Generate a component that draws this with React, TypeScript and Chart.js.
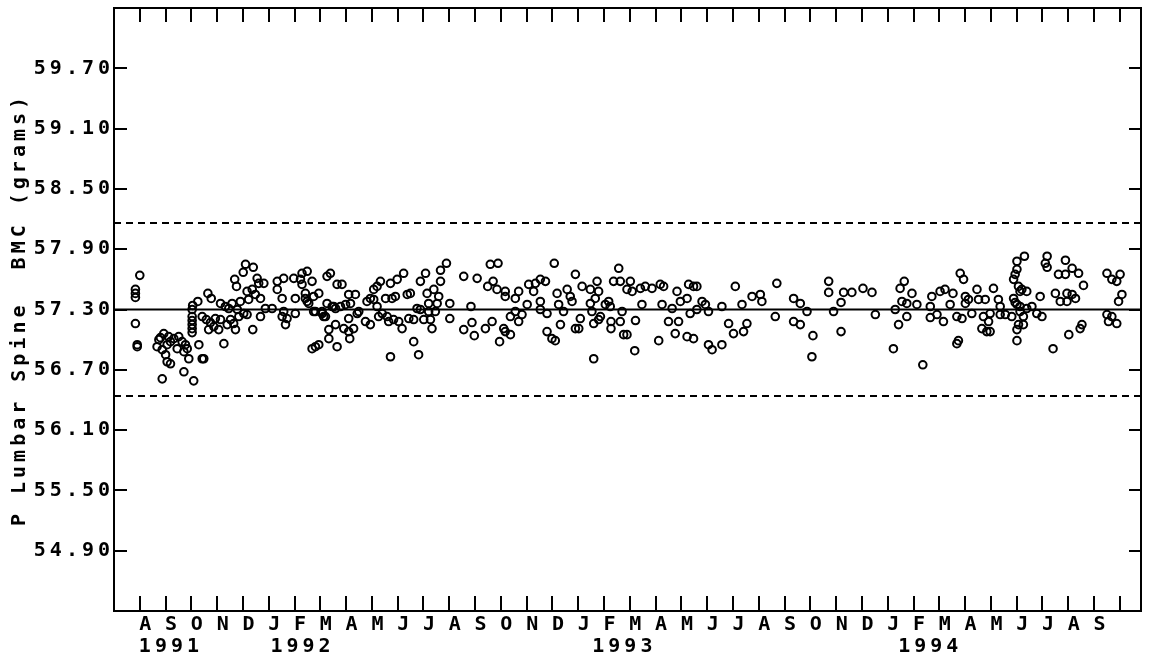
import { useEffect, useRef } from "react";
import { Chart, registerables } from "chart.js";

Chart.register(...registerables);

// ---- axis definitions ----
// x = months since 1 Aug 1991 (0 = Aug 1991, 38 = Oct 1994)
const xMin = -1;
const xMax = 38.82;
const monthTickValues = [
  0, 1, 2, 3, 4, 5, 6, 7, 8, 9, 10, 11, 12, 13, 14, 15, 16, 17, 18, 19,
  20, 21, 22, 23, 24, 25, 26, 27, 28, 29, 30, 31, 32, 33, 34, 35, 36, 37, 38,
];
const monthLetters = [
  "A", "S", "O", "N", "D",
  "J", "F", "M", "A", "M", "J", "J", "A", "S", "O", "N", "D",
  "J", "F", "M", "A", "M", "J", "J", "A", "S", "O", "N", "D",
  "J", "F", "M", "A", "M", "J", "J", "A", "S", "",
];
const yearLabels = ["1991", "1992", "1993", "1994"];
const yearLabelMonth = [1.13, 6.23, 18.71, 30.57];

const yMin = 54.3;
const yMax = 60.3;
const yTickValues = [54.9, 55.5, 56.1, 56.7, 57.3, 57.9, 58.5, 59.1, 59.7];
const yTitle = "P Lumbar Spine  BMC (grams)";

// reference lines
const meanBMC = 57.3;
const upperLimit = 58.16;
const lowerLimit = 56.44;

// ---- readings (month since Aug 1991, BMC grams) ----
const sampleMonth = [
  -0.17, -0.17, -0.17, 0.0, -0.17, -0.1, -0.1, 0.67, 0.74, 0.8,
  0.87, 0.87, 0.93, 1.0, 1.06, 1.06, 1.12, 1.19, 1.19, 1.32,
  1.45, 1.51, 1.64, 1.71, 1.71, 1.77, 1.84, 1.9, 2.03, 2.03,
  2.03, 2.03, 2.03, 2.03, 2.05, 2.09, 2.25, 2.29, 2.42, 2.42,
  2.48, 2.58, 2.64, 2.67, 2.74, 2.77, 2.87, 2.93, 3.06, 3.13,
  3.13, 3.26, 3.32, 3.39, 3.45, 3.52, 3.58, 3.64, 3.68, 3.71,
  3.75, 3.78, 3.84, 3.9, 4.01, 4.03, 4.1, 4.16, 4.16, 4.22,
  4.36, 4.38, 4.4, 4.48, 4.55, 4.61, 4.68, 4.68, 4.81, 4.87,
  5.13, 5.33, 5.33, 5.52, 5.52, 5.58, 5.58, 5.65, 5.71, 5.97,
  6.03, 6.03, 6.23, 6.29, 6.29, 6.42, 6.42, 6.49, 6.49, 6.55,
  6.68, 6.68, 6.74, 6.74, 6.81, 6.81, 6.94, 6.94, 7.07, 7.07,
  7.13, 7.2, 7.26, 7.26, 7.33, 7.33, 7.39, 7.46, 7.52, 7.59,
  7.59, 7.65, 7.65, 7.78, 7.84, 7.91, 7.98, 8.1, 8.1, 8.1,
  8.14, 8.17, 8.29, 8.36, 8.43, 8.49, 8.75, 8.81, 8.94, 8.94,
  9.07, 9.07, 9.2, 9.2, 9.26, 9.33, 9.4, 9.53, 9.59, 9.65,
  9.72, 9.72, 9.78, 9.84, 9.91, 9.98, 10.04, 10.17, 10.23, 10.37,
  10.43, 10.49, 10.62, 10.62, 10.75, 10.81, 10.88, 10.88, 11.01, 11.08,
  11.14, 11.2, 11.2, 11.27, 11.33, 11.4, 11.46, 11.53, 11.59, 11.66,
  11.66, 11.89, 12.02, 12.02, 12.56, 12.56, 12.84, 12.88, 12.97, 13.08,
  13.4, 13.49, 13.59, 13.66, 13.7, 13.85, 13.89, 13.95, 14.11, 14.17,
  14.17, 14.17, 14.37, 14.37, 14.56, 14.56, 14.69, 14.69, 14.82, 15.02,
  15.08, 15.27, 15.34, 15.53, 15.53, 15.53, 15.73, 15.79, 15.79, 15.98,
  16.07, 16.11, 16.18, 16.24, 16.31, 16.43, 16.57, 16.69, 16.76, 16.89,
  16.89, 17.02, 17.08, 17.15, 17.47, 17.47, 17.53, 17.6, 17.6, 17.66,
  17.73, 17.79, 17.79, 17.86, 18.05, 18.18, 18.24, 18.27, 18.27, 18.37,
  18.57, 18.63, 18.63, 18.7, 18.76, 18.89, 18.89, 19.02, 19.09, 19.19,
  19.22, 19.41, 19.47, 19.6, 19.86, 20.12, 20.18, 20.25, 20.31, 20.5,
  20.64, 20.76, 20.83, 20.89, 20.96, 21.22, 21.22, 21.28, 21.34, 21.47,
  21.47, 21.6, 21.6, 21.8, 21.93, 22.05, 22.05, 22.19, 22.57, 22.57,
  22.83, 23.02, 23.09, 23.35, 23.41, 23.54, 23.74, 24.06, 24.12, 24.64,
  24.7, 25.35, 25.35, 25.61, 25.61, 25.87, 26.1, 26.06, 26.71, 26.71,
  26.9, 27.19, 27.19, 27.29, 27.61, 28.04, 28.39, 28.52, 29.22, 29.29,
  29.42, 29.48, 29.55, 29.64, 29.74, 29.74, 29.94, 30.13, 30.36, 30.65,
  30.71, 30.65, 30.91, 31.03, 31.16, 31.22, 31.42, 31.53, 31.68, 31.74,
  31.68, 31.81, 31.94, 31.88, 32.01, 32.01, 32.13, 32.26, 32.46, 32.52,
  32.65, 32.71, 32.78, 32.84, 32.97, 32.91, 32.97, 33.1, 33.29, 33.36,
  33.36, 33.56, 33.81, 33.88, 33.88, 33.94, 33.94, 34.01, 34.01, 34.01,
  34.01, 34.01, 34.07, 34.07, 34.13, 34.13, 34.13, 34.2, 34.26, 34.26,
  34.3, 34.39, 34.39, 34.59, 34.78, 34.91, 34.98, 35.11, 35.18, 35.18,
  35.41, 35.5, 35.62, 35.69, 35.89, 35.89, 35.95, 35.95, 36.02, 36.15,
  36.15, 36.28, 36.4, 36.46, 36.53, 36.59, 37.5, 37.5, 37.56, 37.69,
  37.69, 37.88, 37.88, 37.95, 38.01, 38.08,
];
const bmcGrams = [
  57.5, 57.46, 57.42, 57.64, 57.16, 56.93, 56.95, 56.93, 57.0, 57.02,
  56.9, 56.61, 57.06, 56.85, 56.78, 56.95, 57.03, 56.76, 56.98, 57.01,
  56.91, 57.03, 56.98, 56.88, 56.68, 56.95, 56.91, 56.81, 57.3, 57.23,
  57.19, 57.15, 57.11, 57.07, 57.34, 56.59, 57.38, 56.95, 56.81, 57.23,
  56.81, 57.2, 57.46, 57.1, 57.17, 57.41, 57.13, 57.21, 57.1, 57.2,
  57.36, 56.96, 57.33, 57.15, 57.31, 57.2, 57.36, 57.16, 57.6, 57.1,
  57.53, 57.3, 57.23, 57.38, 57.67, 57.26, 57.75, 57.48, 57.25, 57.4,
  57.5, 57.1, 57.72, 57.45, 57.61, 57.56, 57.41, 57.23, 57.56, 57.31,
  57.31, 57.58, 57.5, 57.41, 57.23, 57.61, 57.28, 57.15, 57.21, 57.61,
  57.41, 57.26, 57.6, 57.66, 57.55, 57.46, 57.41, 57.68, 57.38, 57.36,
  57.58, 56.91, 57.28, 57.43, 57.28, 56.93, 56.95, 57.46, 57.28, 57.26,
  57.23, 57.23, 57.63, 57.36, 57.01, 57.1, 57.66, 57.33, 57.33, 57.15,
  57.31, 56.93, 57.55, 57.33, 57.55, 57.11, 57.35, 57.45, 57.21, 57.08,
  57.01, 57.36, 57.11, 57.45, 57.26, 57.28, 57.18, 57.38, 57.15, 57.41,
  57.5, 57.4, 57.53, 57.33, 57.23, 57.58, 57.26, 57.41, 57.23, 57.18,
  57.56, 56.83, 57.41, 57.2, 57.43, 57.6, 57.18, 57.11, 57.66, 57.45,
  57.21, 57.46, 56.98, 57.2, 57.31, 56.85, 57.58, 57.3, 57.2, 57.66,
  57.46, 57.36, 57.28, 57.2, 57.11, 57.5, 57.28, 57.36, 57.43, 57.58,
  57.69, 57.76, 57.36, 57.21, 57.63, 57.1, 57.33, 57.17, 57.04, 57.61,
  57.11, 57.53, 57.75, 57.18, 57.58, 57.5, 57.76, 56.98, 57.11, 57.08,
  57.43, 57.48, 57.23, 57.05, 57.28, 57.41, 57.18, 57.48, 57.25, 57.35,
  57.55, 57.48, 57.56, 57.6, 57.38, 57.3, 57.58, 57.26, 57.08, 57.01,
  57.76, 56.99, 57.46, 57.35, 57.15, 57.28, 57.5, 57.43, 57.38, 57.65,
  57.11, 57.11, 57.21, 57.53, 57.5, 57.36, 57.28, 57.16, 56.81, 57.41,
  57.58, 57.48, 57.2, 57.23, 57.35, 57.38, 57.33, 57.18, 57.11, 57.58,
  57.71, 57.58, 57.18, 57.28, 57.05, 57.05, 57.5, 57.58, 57.48, 56.89,
  57.19, 57.51, 57.35, 57.53, 57.51, 56.99, 57.55, 57.35, 57.53, 57.18,
  57.31, 57.06, 57.48, 57.18, 57.38, 57.41, 57.03, 57.55, 57.26, 57.53,
  57.01, 57.53, 57.3, 57.38, 57.35, 56.95, 57.28, 56.9, 56.95, 57.33,
  57.16, 57.06, 57.53, 57.35, 57.08, 57.16, 57.43, 57.45, 57.38, 57.23,
  57.56, 57.41, 57.18, 57.36, 57.15, 57.28, 57.04, 56.83, 57.58, 57.47,
  57.28, 57.37, 57.08, 57.47, 57.47, 57.51, 57.47, 57.25, 56.91, 57.3,
  57.15, 57.51, 57.38, 57.58, 57.36, 57.23, 57.46, 57.35, 56.75, 57.33,
  57.43, 57.22, 57.25, 57.48, 57.18, 57.5, 57.35, 57.46, 56.96, 56.99,
  57.23, 57.66, 57.6, 57.21, 57.43, 57.36, 57.4, 57.26, 57.5, 57.4,
  57.11, 57.23, 57.4, 57.08, 57.08, 57.18, 57.26, 57.51, 57.4, 57.33,
  57.25, 57.25, 57.23, 57.41, 57.6, 57.65, 57.37, 57.7, 57.78, 57.35,
  57.1, 56.99, 57.15, 57.53, 57.48, 57.28, 57.33, 57.5, 57.23, 57.15,
  57.83, 57.48, 57.31, 57.33, 57.26, 57.43, 57.23, 57.76, 57.83, 57.72,
  56.91, 57.46, 57.65, 57.38, 57.79, 57.65, 57.46, 57.38, 57.05, 57.71,
  57.45, 57.41, 57.66, 57.11, 57.15, 57.54, 57.66, 57.25, 57.18, 57.6,
  57.23, 57.58, 57.16, 57.38, 57.65, 57.45,
];

const FONT_FAMILY = '"DejaVu Sans Mono", "Liberation Mono", monospace';
const LETTER_SPACING = 4;

export default function App() {
  const canvasRef = useRef<HTMLCanvasElement | null>(null);

  useEffect(() => {
    const canvas = canvasRef.current;
    if (!canvas) return;

    const n = Math.min(sampleMonth.length, bmcGrams.length);
    const points = [] as { x: number; y: number }[];
    for (let i = 0; i < n; i++) points.push({ x: sampleMonth[i], y: bmcGrams[i] });

    const hLine = (v: number) => [
      { x: xMin, y: v },
      { x: xMax, y: v },
    ];

    const framePlugin = {
      id: "framePlugin",
      beforeDraw(chart: any) {
        (chart.ctx as any).letterSpacing = `${LETTER_SPACING}px`;
      },
      afterDraw(chart: any) {
        const { ctx, chartArea: a, scales } = chart;
        const xs = scales.x;
        const ys = scales.y;
        ctx.save();
        ctx.strokeStyle = "#000";
        ctx.lineWidth = 2;
        ctx.strokeRect(a.left, a.top, a.right - a.left, a.bottom - a.top);
        ctx.beginPath();
        for (const t of xs.ticks) {
          const px = Math.round(xs.getPixelForValue(t.value));
          ctx.moveTo(px, a.top);
          ctx.lineTo(px, a.top + 14);
          ctx.moveTo(px, a.bottom);
          ctx.lineTo(px, a.bottom - 15);
        }
        for (const t of ys.ticks) {
          const py = Math.round(ys.getPixelForValue(t.value));
          ctx.moveTo(a.left, py);
          ctx.lineTo(a.left + 13, py);
          ctx.moveTo(a.right, py);
          ctx.lineTo(a.right - 12, py);
        }
        ctx.stroke();
        ctx.font = `bold 20px ${FONT_FAMILY}`;
        (ctx as any).letterSpacing = `${LETTER_SPACING}px`;
        ctx.fillStyle = "#000";
        ctx.textAlign = "center";
        ctx.textBaseline = "middle";
        yearLabels.forEach((label, i) => {
          ctx.fillText(
            label,
            xs.getPixelForValue(yearLabelMonth[i]) + LETTER_SPACING / 2,
            a.bottom + 36
          );
        });
        ctx.restore();
      },
    };

    const font = { family: FONT_FAMILY, size: 20, weight: "bold" as const };

    const chart = new Chart(canvas, {
      type: "scatter",
      data: {
        datasets: [
          {
            label: "BMC",
            data: points,
            pointStyle: "circle",
            pointRadius: 3.8,
            pointBorderWidth: 2,
            borderColor: "#000",
            pointBorderColor: "#000",
            backgroundColor: "rgba(0,0,0,0)",
            pointBackgroundColor: "rgba(0,0,0,0)",
            showLine: false,
          },
          {
            label: "Mean",
            data: hLine(meanBMC),
            showLine: true,
            borderColor: "#000",
            borderWidth: 2,
            pointRadius: 0,
          },
          {
            label: "Upper",
            data: hLine(upperLimit),
            showLine: true,
            borderColor: "#000",
            borderWidth: 2,
            borderDash: [7, 5],
            pointRadius: 0,
          },
          {
            label: "Lower",
            data: hLine(lowerLimit),
            showLine: true,
            borderColor: "#000",
            borderWidth: 2,
            borderDash: [7, 5],
            pointRadius: 0,
          },
        ],
      },
      options: {
        animation: false,
        responsive: true,
        maintainAspectRatio: false,
        events: [],
        layout: { padding: { left: 0, top: 8, right: 8, bottom: 0 } },
        plugins: {
          legend: { display: false },
          tooltip: { enabled: false },
        },
        scales: {
          x: {
            type: "linear",
            min: xMin,
            max: xMax,
            afterBuildTicks: (s: any) => {
              s.ticks = monthTickValues.map((v) => ({ value: v }));
            },
            afterFit: (s: any) => {
              s.height = 50;
              s.paddingLeft = 0;
              s.paddingRight = 0;
            },
            grid: { display: false, drawTicks: false },
            border: { display: false },
            ticks: {
              autoSkip: false,
              maxRotation: 0,
              minRotation: 0,
              padding: 2,
              labelOffset: 7.5,
              color: "#000",
              font,
              callback: (_v: any, i: number) => monthLetters[i] ?? "",
            },
          },
          y: {
            type: "linear",
            min: yMin,
            max: yMax,
            afterBuildTicks: (s: any) => {
              s.ticks = yTickValues.map((v) => ({ value: v }));
            },
            afterFit: (s: any) => {
              s.width = 114;
              s.paddingTop = 0;
              s.paddingBottom = 0;
            },
            grid: { display: false, drawTicks: false },
            border: { display: false },
            ticks: {
              padding: 0,
              color: "#000",
              font,
              callback: (v: any) => Number(v).toFixed(2),
            },
            title: {
              display: true,
              text: yTitle,
              color: "#000",
              font,
              padding: { top: 8, bottom: 0 },
            },
          },
        },
      },
      plugins: [framePlugin],
    });

    return () => chart.destroy();
  }, []);

  return (
    <div style={{ position: "fixed", left: 0, top: 0, width: 1149, height: 661, background: "#fff" }}>
      <canvas ref={canvasRef} />
    </div>
  );
}
